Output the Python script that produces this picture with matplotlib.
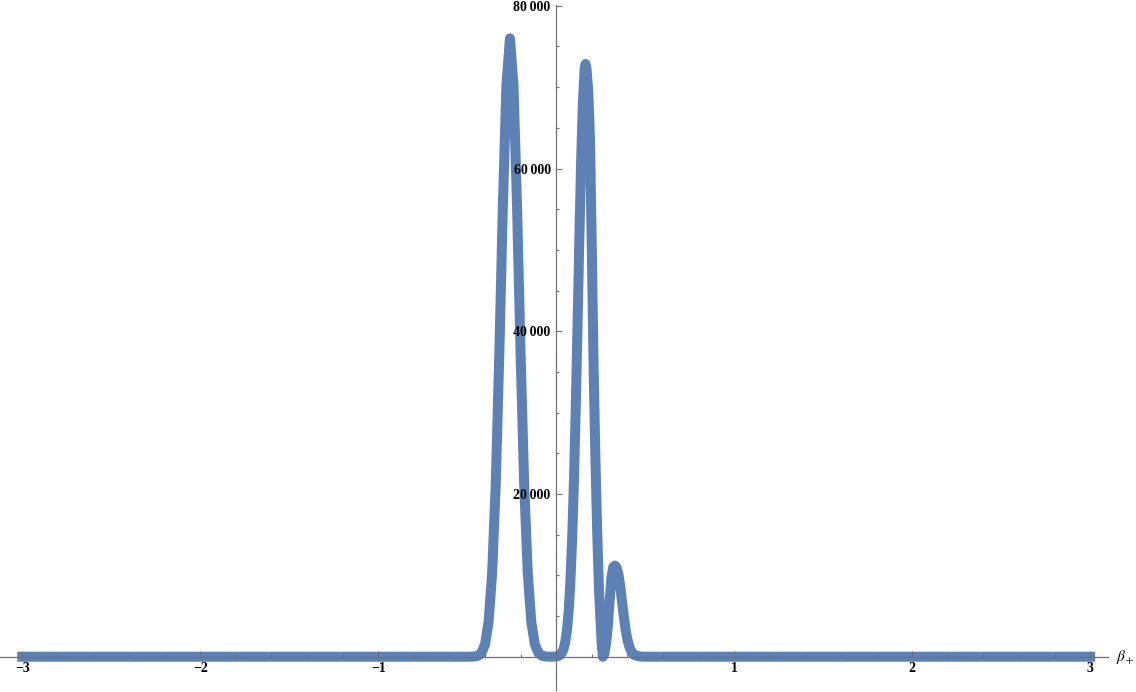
import matplotlib
matplotlib.use("Agg")
import matplotlib.pyplot as plt
from matplotlib.ticker import MultipleLocator, FuncFormatter

# values
beta = [-3.0, -0.50, -0.48, -0.46, -0.44, -0.42, -0.40, -0.38, -0.36, -0.34,
        -0.32, -0.30, -0.28, -0.26, -0.24, -0.22, -0.20, -0.18, -0.16, -0.14,
        -0.12, -0.10, -0.08, -0.06, -0.04, -0.02, 0.00, 0.01, 0.02, 0.03,
        0.04, 0.05, 0.06, 0.07, 0.08, 0.09, 0.10, 0.11, 0.12, 0.13,
        0.14, 0.15, 0.16, 0.165, 0.17, 0.18, 0.19, 0.20, 0.21, 0.22,
        0.23, 0.24, 0.25, 0.255, 0.262, 0.27, 0.28, 0.29, 0.30, 0.31,
        0.32, 0.33, 0.34, 0.35, 0.36, 0.37, 0.38, 0.39, 0.40, 0.41,
        0.42, 0.43, 0.44, 0.46, 0.48, 0.50, 3.0]
density = [0, 0, 5, 25, 116, 455, 1510, 4260, 10300, 21100,
           37000, 55200, 70200, 76000, 70200, 55200, 37000, 21100, 10300, 4260,
           1510, 455, 116, 25, 5, 0, 30, 80, 190, 410,
           870, 1710, 3200, 5640, 9400, 14800, 22000, 30900, 41000, 51500,
           61000, 68300, 72300, 72850, 72300, 69500, 63500, 50000, 35500, 24500,
           15500, 8400, 3900, 1800, 0, 300, 1600, 3800, 6800, 9700,
           11000, 11200, 10900, 10100, 8600, 6700, 4900, 3300, 2100, 1300,
           750, 400, 200, 60, 10, 0, 0]

x_ticks = [-3, -2, -1, 1, 2, 3]
y_ticks = [20000, 40000, 60000, 80000]

plt.rcParams["font.family"] = ["Liberation Serif", "DejaVu Serif"]
plt.rcParams["mathtext.fontset"] = "stix"

W, H = 1136, 692
fig = plt.figure(figsize=(W / 100, H / 100), dpi=100)
ax = fig.add_axes([0, 2 / H, 1108 / W, (690 - 5) / H])

ax.plot(beta, density, color="#5E81B5", lw=7.2, solid_capstyle="projecting",
        solid_joinstyle="round", zorder=2)

ax.set_xlim(-3.125, 3.10)
ax.set_ylim(-4090, 80100)

axis_col = "#707070"
for s in ["top", "right"]:
    ax.spines[s].set_visible(False)
ax.spines["left"].set_position(("data", 0))
ax.spines["bottom"].set_position(("data", 0))
for s in ["left", "bottom"]:
    ax.spines[s].set_color(axis_col)
    ax.spines[s].set_linewidth(0.9)
    ax.spines[s].set_zorder(3)
ax.xaxis.set_zorder(3)
ax.yaxis.set_zorder(3)

ax.set_xticks(x_ticks)
ax.set_yticks(y_ticks)
ax.xaxis.set_minor_locator(MultipleLocator(0.2))
ax.yaxis.set_minor_locator(MultipleLocator(5000))
ax.xaxis.set_major_formatter(FuncFormatter(lambda v, p: f"{v:.0f}".replace("-", "\u2212")))
ax.yaxis.set_major_formatter(FuncFormatter(lambda v, p: f"{v:,.0f}".replace(",", "\u2009")))

ax.tick_params(which="both", direction="in", color=axis_col, width=0.8,
               labelsize=10, labelcolor="black")
ax.tick_params(which="major", length=4.0)
ax.tick_params(which="minor", length=2.2)
ax.tick_params(axis="x", pad=4)
ax.tick_params(axis="y", pad=4)
for lab in ax.get_xticklabels() + ax.get_yticklabels():
    lab.set_fontweight("bold")

ax.annotate(r"$\beta_+$", xy=(1, 0), xycoords=("axes fraction", "data"),
            xytext=(6, 0), textcoords="offset points", va="center", ha="left",
            fontsize=11, annotation_clip=False)

fig.savefig("out.png", dpi=100)
